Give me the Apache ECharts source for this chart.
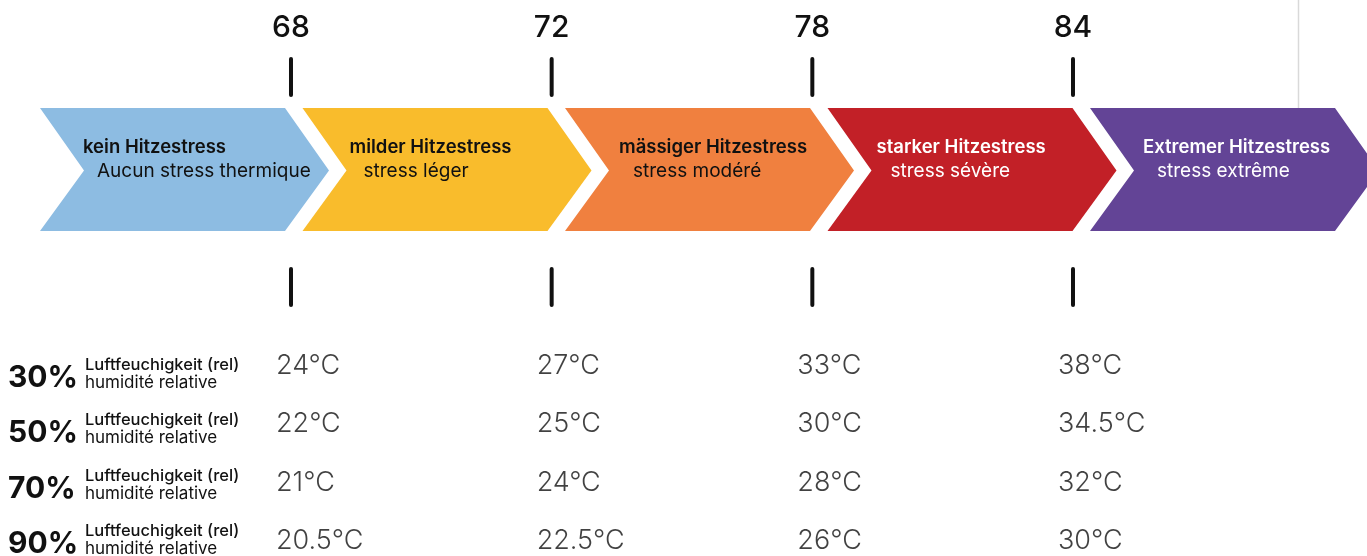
<!DOCTYPE html>
<html><head><meta charset="utf-8">
<script src="https://cdn.jsdelivr.net/npm/echarts@6/dist/echarts.min.js"></script>
<style>html,body{margin:0;padding:0;background:#fff}#c{width:1367px;height:556px}</style>
</head><body><div id="c"></div>
<script>
// ---- data ----
const levelsDe = ['kein Hitzestress', 'milder Hitzestress', 'mässiger Hitzestress', 'starker Hitzestress', 'Extremer Hitzestress'];
const levelsFr = ['Aucun stress thermique', 'stress léger', 'stress modéré', 'stress sévère', 'stress extrême'];
const thresholds = [68, 72, 78, 84];
const humidity = ['30%', '50%', '70%', '90%'];
const temps30 = [24, 27, 33, 38];
const temps50 = [22, 25, 30, 34.5];
const temps70 = [21, 24, 28, 32];
const temps90 = [20.5, 22.5, 26, 30];
const humLabelDe = 'Luftfeuchigkeit (rel)';
const humLabelFr = 'humidité relative';

// ---- style ----
const levelColors = ['#8DBCE2', '#F9BC2C', '#F0803F', '#C22027', '#634496'];
const levelTextColors = ['#111', '#111', '#111', '#fff', '#fff'];
const textOffsets = [43, 47, 54, 49, 53];
const FONT = 'Inter';
const tempRows = [temps30, temps50, temps70, temps90];

const chart = echarts.init(document.getElementById('c'), null, {renderer: 'canvas'});

const chevronData = levelsDe.map((d, i) => [i, d, levelsFr[i]]);
const tickData = thresholds.map((t, i) => [i + 1, t]);
const tempData = [];
tempRows.forEach((row, r) => row.forEach((t, c) => tempData.push([c + 1, r, t])));
const humData = humidity.map((h, r) => [0, r, h]);

const option = {
  animation: false,
  backgroundColor: '#fff',
  grid: [
    {left: 40, width: 1312.5, top: 108, height: 123},
    {left: 30.33, width: 1303.33, top: 57, height: 250},
    {left: 30.33, width: 1303.33, top: 366, height: 175},
    {left: 8, width: 300, top: 366, height: 166}
  ],
  xAxis: [
    {gridIndex: 0, type: 'value', min: 0, max: 5, show: false},
    {gridIndex: 1, type: 'value', min: 0, max: 5, show: false},
    {gridIndex: 2, type: 'value', min: 0, max: 5, show: false},
    {gridIndex: 3, type: 'value', min: 0, max: 1, show: false}
  ],
  yAxis: [
    {gridIndex: 0, type: 'value', min: 0, max: 1, show: false},
    {gridIndex: 1, type: 'value', min: 0, max: 1, show: false},
    {gridIndex: 2, type: 'value', min: 0, max: 3, inverse: true, show: false},
    {gridIndex: 3, type: 'value', min: 0, max: 3, inverse: true, show: false}
  ],
  graphic: [
    {type: 'line', shape: {x1: 1298.5, y1: 0, x2: 1298.5, y2: 108}, style: {stroke: '#d9d9d9', lineWidth: 1.5}, z: 0}
  ],
  series: [
    {
      type: 'custom', xAxisIndex: 0, yAxisIndex: 0, clip: false,
      data: chevronData,
      renderItem(params, api) {
        const i = api.value(0);
        const tl = api.coord([i, 1]);
        const tr = api.coord([i + 1, 1]);
        const bl = api.coord([i, 0]);
        const gap = 17.5, depth = 44;
        const L = tl[0], R = tr[0] - gap, T = tl[1], B = bl[1], M = (T + B) / 2 + 1;
        const pts = [[L, T], [R, T], [R + depth, M], [R, B], [L, B], [L + depth, M]];
        const tx = L + textOffsets[i];
        return {
          type: 'group',
          children: [
            {type: 'polygon', shape: {points: pts}, style: {fill: levelColors[i]}},
            {type: 'text', x: tx, y: T + 39, style: {text: chevronData[params.dataIndex][1], fill: levelTextColors[i], font: '600 18.5px ' + FONT, textVerticalAlign: 'middle', textAlign: 'left'}},
            {type: 'text', x: tx + 14, y: T + 63, style: {text: chevronData[params.dataIndex][2], fill: levelTextColors[i], font: '400 19px ' + FONT, textVerticalAlign: 'middle', textAlign: 'left'}}
          ]
        };
      }
    },
    {
      type: 'custom', xAxisIndex: 1, yAxisIndex: 1, clip: false,
      data: tickData,
      renderItem(params, api) {
        const p = api.coord([api.value(0), 1]);
        const x = p[0], top = p[1];
        const ls = {stroke: '#111', lineWidth: 4, lineCap: 'round'};
        return {
          type: 'group',
          children: [
            {type: 'text', x: x, y: top - 29, style: {text: String(api.value(1)), fill: '#111', font: '500 30px ' + FONT, textAlign: 'center', textVerticalAlign: 'middle'}},
            {type: 'line', shape: {x1: x, y1: top + 2, x2: x, y2: top + 38}, style: ls},
            {type: 'line', shape: {x1: x, y1: top + 212, x2: x, y2: top + 248}, style: ls}
          ]
        };
      }
    },
    {
      type: 'scatter', xAxisIndex: 2, yAxisIndex: 2, symbolSize: 0,
      data: tempData,
      label: {
        show: true, position: 'inside', align: 'left', offset: [-15, 0],
        formatter: p => p.value[2] + '°C',
        fontFamily: FONT, fontWeight: 300, fontSize: 27, color: '#111'
      }
    },
    {
      type: 'custom', xAxisIndex: 3, yAxisIndex: 3, clip: false,
      data: humData,
      renderItem(params, api) {
        const p = api.coord([0, api.value(1)]);
        const x = p[0], y = p[1];
        return {
          type: 'group',
          children: [
            {type: 'text', x: x, y: y + 12, style: {text: humidity[params.dataIndex], fill: '#111', font: '700 30px ' + FONT, textAlign: 'left', textVerticalAlign: 'middle'}},
            {type: 'text', x: x + 77, y: y - 1, style: {text: humLabelDe, fill: '#111', font: '500 16.5px ' + FONT, textAlign: 'left', textVerticalAlign: 'middle'}},
            {type: 'text', x: x + 77, y: y + 17, style: {text: humLabelFr, fill: '#111', font: '400 17px ' + FONT, textAlign: 'left', textVerticalAlign: 'middle'}}
          ]
        };
      }
    }
  ]
};
chart.setOption(option);
</script>
</body></html>
